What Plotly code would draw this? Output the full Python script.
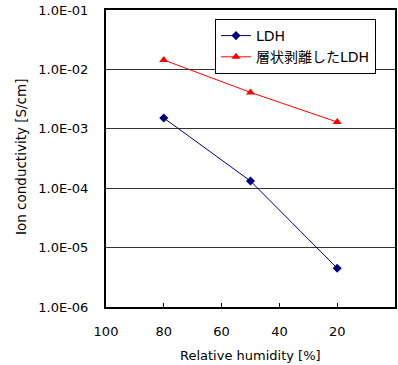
import plotly.graph_objects as go

humidity = [80, 50, 20]
ldh = [1.52e-3, 1.32e-4, 4.5e-6]
exfoliated = [1.44e-2, 4.1e-3, 1.3e-3]
series_names = ["LDH", "層状剥離したLDH"]
y_tickvals = [1e-6, 1e-5, 1e-4, 1e-3, 1e-2, 1e-1]
y_ticktext = ["1.0E-06", "1.0E-05", "1.0E-04", "1.0E-03", "1.0E-02", "1.0E-01"]
x_tickvals = [100, 80, 60, 40, 20, 0]
x_title = "Relative humidity [%]"
y_title = "Ion conductivity [S/cm]"

font_family = "DejaVu Sans, Noto Sans CJK JP, sans-serif"

W, H, L, R, T, B = 398, 365, 106, 3, 10, 58
pw, ph = W - L - R, H - T - B
def px(x):
    return (x - L) / pw
def py(y):
    return 1 - (y - T) / ph

fig = go.Figure()
fig.add_trace(go.Scatter(
    x=humidity, y=ldh, name=series_names[0], mode="lines+markers",
    line=dict(color="#000080", width=1),
    marker=dict(symbol="diamond", size=7, color="#000080"),
))
fig.add_trace(go.Scatter(
    x=humidity, y=exfoliated, name=series_names[1], mode="lines+markers",
    line=dict(color="#FF0000", width=1),
    marker=dict(symbol="triangle-up", size=8, color="#FF0000"),
))

fig.update_layout(
    width=W, height=H,
    margin=dict(l=L, r=R, t=T, b=B, autoexpand=False),
    paper_bgcolor="white", plot_bgcolor="white",
    font=dict(family=font_family, size=13, color="black"),
    showlegend=True,
    legend=dict(
        x=px(215), y=py(19), xanchor="left", yanchor="top",
        bgcolor="white", bordercolor="black", borderwidth=1,
        font=dict(size=14, family=font_family),
        tracegroupgap=0, itemwidth=30,
    ),
    xaxis=dict(
        range=[100, 0], tickvals=x_tickvals,
        ticks="inside", ticklen=4, tickcolor="black",
        showline=True, linecolor="black", linewidth=2, mirror=True,
        showgrid=False, zeroline=False, automargin=False,
        tickfont=dict(size=13), ticklabelstandoff=11,
    ),
    yaxis=dict(
        type="log", range=[-6, -1], tickvals=y_tickvals, ticktext=y_ticktext,
        ticks="", showline=True, linecolor="black", linewidth=2, mirror=True,
        showgrid=True, gridcolor="#333333", gridwidth=1, automargin=False,
        tickfont=dict(size=13), ticklabelstandoff=13,
    ),
    annotations=[
        dict(text=x_title, x=px(250), y=py(355), xref="paper", yref="paper",
             xanchor="center", yanchor="middle", showarrow=False,
             font=dict(size=13)),
        dict(text=y_title, x=px(21), y=py(157), xref="paper", yref="paper",
             xanchor="center", yanchor="middle", textangle=-90, showarrow=False,
             font=dict(size=13.5)),
    ],
)

fig.write_html("out.html", config={"displayModeBar": False, "staticPlot": True},
               post_script="document.body.style.margin='0px';document.body.style.overflow='hidden';")
